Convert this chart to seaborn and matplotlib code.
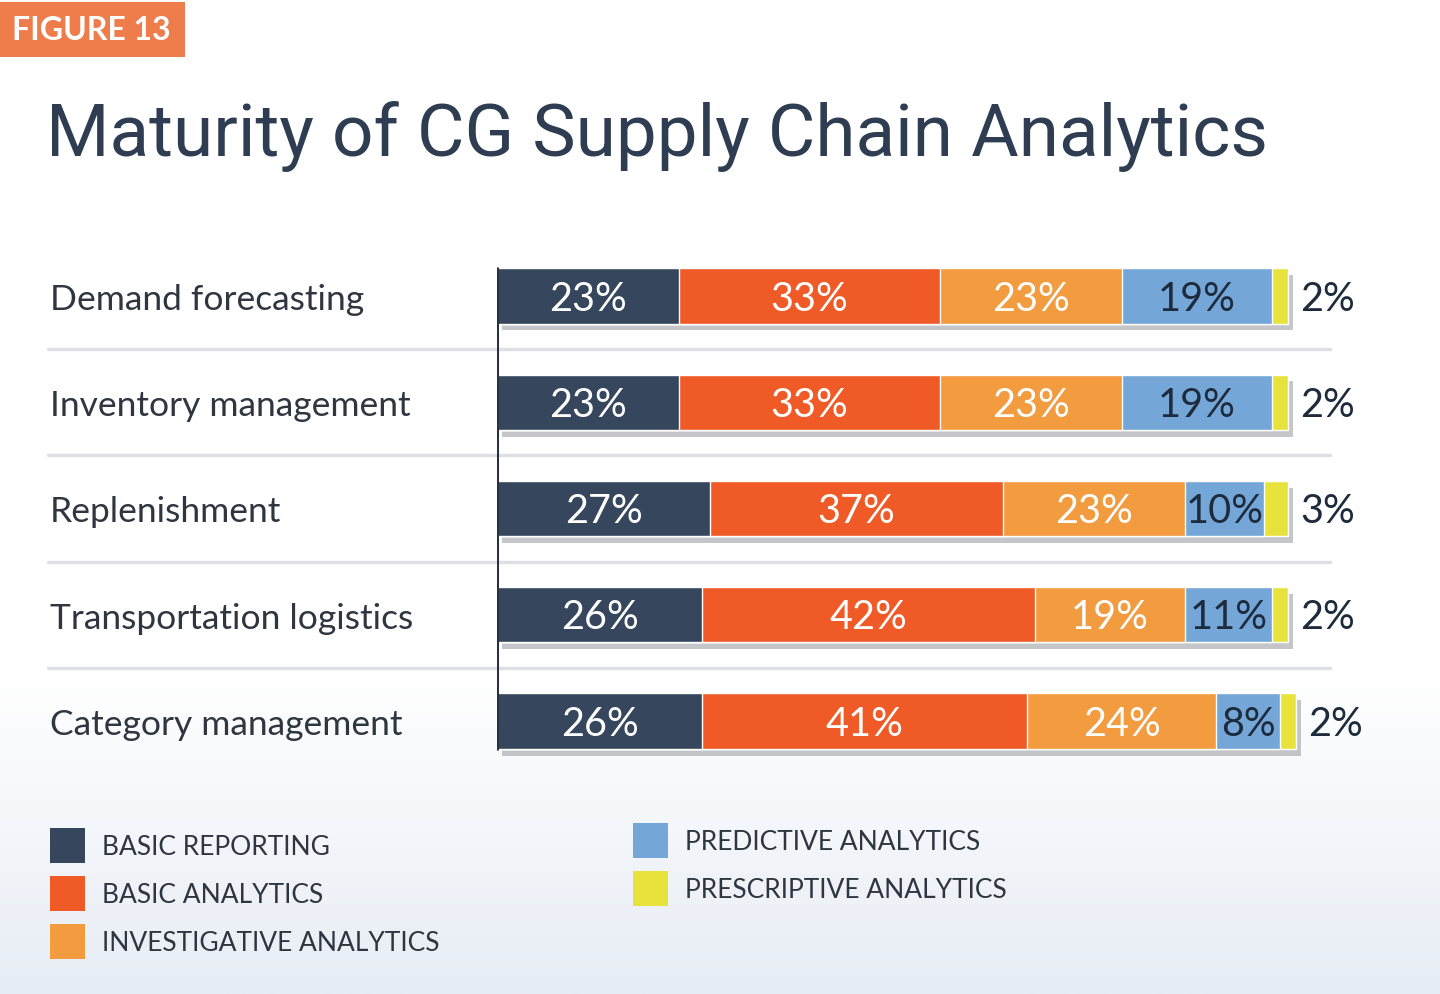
import numpy as np
import pandas as pd
import matplotlib
matplotlib.use("Agg")
import matplotlib.pyplot as plt
import seaborn as sns
from matplotlib import font_manager
from matplotlib import patheffects as pe
from matplotlib.patches import Rectangle, Patch
from matplotlib.lines import Line2D
from matplotlib.transforms import blended_transform_factory
from matplotlib.colors import LinearSegmentedColormap

# ---------------- data ----------------
categories = ["Demand forecasting", "Inventory management", "Replenishment",
              "Transportation logistics", "Category management"]
series_names = ["BASIC REPORTING", "BASIC ANALYTICS", "INVESTIGATIVE ANALYTICS",
                "PREDICTIVE ANALYTICS", "PRESCRIPTIVE ANALYTICS"]
basic_reporting = [23, 23, 27, 26, 26]
basic_analytics = [33, 33, 37, 42, 41]
investigative_analytics = [23, 23, 23, 19, 24]
predictive_analytics = [19, 19, 10, 11, 8]
prescriptive_analytics = [2, 2, 3, 2, 2]
title_text = "Maturity of CG Supply Chain Analytics"
badge_text = "FIGURE 13"

# ---------------- style ----------------
colors = ["#35465d", "#ef5a26", "#f29b3f", "#74a7d8", "#e8e33c"]
label_colors = ["white", "white", "white", "#1e2b3c", "#1e2b3c"]
text_dark = "#2f3640"
title_color = "#2e3d51"

sns.set_theme(style="white")
available = {f.name for f in font_manager.fontManager.ttflist}
if "Liberation Sans Narrow" in available:
    narrow = "Liberation Sans Narrow"
    sz_pct, sz_cat, sz_leg, sz_badge = 32, 30, 21, 25
else:
    narrow = "Lato"
    sz_pct, sz_cat, sz_leg, sz_badge = 28.5, 25.5, 19, 23
plt.rcParams["font.family"] = [narrow, "DejaVu Sans"]

values = [basic_reporting, basic_analytics, investigative_analytics,
          predictive_analytics, prescriptive_analytics]
df = pd.DataFrame({"category": categories})
for name, vals in zip(series_names, values):
    df[name] = vals
cum = df[series_names].cumsum(axis=1)
for name in series_names:
    df["cum_" + name] = cum[name]

fig = plt.figure(figsize=(14.4, 9.95), dpi=100)

# background gradient
bg = fig.add_axes([0, 0, 1, 1], zorder=-10)
grad = np.clip((0.32 - np.linspace(1, 0, 400)) / 0.32, 0, 1)[:, None]
cmap = LinearSegmentedColormap.from_list("bg", ["#ffffff", "#e7edf5"])
bg.imshow(grad, aspect="auto", cmap=cmap, extent=[0, 1, 0, 1], vmin=0, vmax=1)
bg.set_axis_off()

ax = fig.add_axes([0.345, 0.221, 0.625, 0.534])
ax.patch.set_alpha(0)

# stacked bars: draw cumulative totals from largest to smallest
for k in range(len(series_names) - 1, -1, -1):
    n_before = len(ax.patches)
    sns.barplot(data=df, y="category", x="cum_" + series_names[k], order=categories,
                color=colors[k], saturation=1, width=0.52, errorbar=None,
                orient="h", ax=ax, zorder=3)
    if k == len(series_names) - 1:
        for p in ax.patches[n_before:]:
            p.set_path_effects([pe.SimplePatchShadow(offset=(4, -5), shadow_rgbFace="#8a8f96", alpha=0.5),
                                pe.Normal()])

ax.set_xlim(0, 113.8)
ax.set_ylim(4.5, -0.5)
ax.set_xlabel("")
ax.set_ylabel("")
ax.set_xticks([])
for s in ax.spines.values():
    s.set_visible(False)

# category labels as left-aligned tick labels
ax.tick_params(axis="y", length=0, pad=322, labelsize=sz_cat, labelcolor=text_dark)
for lab in ax.get_yticklabels():
    lab.set_ha("left")

# percentage labels
for i, cat in enumerate(categories):
    left = 0
    for k, name in enumerate(series_names):
        v = df.loc[i, name]
        if k < len(series_names) - 1:
            ax.text(left + v / 2, i + 0.02, f"{v}%", ha="center", va="center",
                    color=label_colors[k], fontsize=sz_pct, zorder=6)
        else:
            ax.annotate(f"{v}%", xy=(left + v, i + 0.02), xytext=(9, 0), textcoords="offset points",
                        ha="left", va="center", color="#1e2b3c", fontsize=sz_pct, zorder=6)
        left += v

# vertical axis line
ax.vlines(0, -0.27, 4.27, colors="#27313f", lw=2.2, zorder=7)

# separator lines
tr = blended_transform_factory(fig.transFigure, ax.transData)
for y in np.arange(0.5, len(categories) - 0.5, 1.0):
    ax.add_line(Line2D([48 / 1440, 1330 / 1440], [y, y], transform=tr, color="#dcdfe3",
                       lw=2.4, clip_on=False, zorder=1))

# badge
fig.patches.append(Rectangle((0, 1 - 58 / 995), 185 / 1440, 55 / 995, transform=fig.transFigure,
                             facecolor="#ef7d4c", edgecolor="none", zorder=2))
fig.text(12 / 1440, 1 - 31 / 995, badge_text, ha="left", va="center", color="white",
         fontsize=sz_badge, fontweight="bold", zorder=3)

# title
fig.text(46 / 1440, 1 - 137 / 995, title_text, ha="left", va="center", color=title_color,
         fontsize=52.5, family=["Roboto", "DejaVu Sans"])

# legends
handles = [Patch(facecolor=c, edgecolor="none") for c in colors]
leg_kw = dict(frameon=False, loc="upper left", fontsize=sz_leg, handlelength=1.32,
              handleheight=1.66, handletextpad=0.64, labelspacing=0.5, borderpad=0,
              borderaxespad=0, labelcolor=text_dark)
l1 = fig.legend(handles[:3], series_names[:3], bbox_to_anchor=(50 / 1440, 1 - 829 / 995), **leg_kw)
l2 = fig.legend(handles[3:], series_names[3:], bbox_to_anchor=(633 / 1440, 1 - 824 / 995), **leg_kw)

fig.savefig("out.png", dpi=100)
